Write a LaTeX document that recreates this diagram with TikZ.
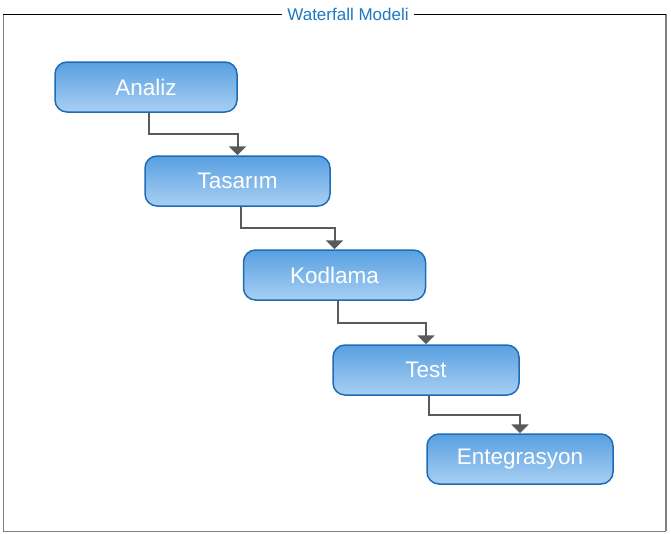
\documentclass[tikz,border=0pt]{standalone}
\usepackage{fontspec}
\setmainfont{Liberation Sans}
\usetikzlibrary{arrows.meta,calc}

\definecolor{boxtop}{RGB}{88,160,225}
\definecolor{boxbottom}{RGB}{168,207,243}
\definecolor{boxline}{RGB}{30,108,181}
\definecolor{titleblue}{RGB}{31,120,193}
\definecolor{flowgray}{RGB}{90,90,90}

\begin{document}
\begin{tikzpicture}[x=1pt,y=-1pt,>={Triangle[width=17pt,length=9pt]},
                    main box/.style={rounded corners=12pt,draw=boxline,line width=1.5pt,
                      top color=boxtop,bottom color=boxbottom,text=white,
                      minimum width=182pt,minimum height=50pt,
                      font=\fontsize{22.5}{26}\selectfont}]
  \useasboundingbox (0,0) rectangle (671,533);
  % frame
  \draw[gray,line width=1pt] (3,14) -- (3,531) -- (666,531);
  \draw[gray,line width=2pt] (666,14) -- (666,531);
  \draw[black,line width=1pt] (3,14) -- (666,14);
  \node[fill=white,text=titleblue,inner xsep=5pt,font=\fontsize{17}{20}\selectfont] (title) at (348,14) {Waterfall Modeli};
  \node[main box] (1) at (146,87) {Analiz};
  \node[main box,minimum width=185pt] (2) at (237.5,181) {Tasarım};
  \node[main box] (3) at (334.5,275) {Kodlama};
  \node[main box,minimum width=186pt] (4) at (426,370) {Test};
  \node[main box,minimum width=186pt] (5) at (520,459) {Entegrasyon};
  \foreach \a/\b in {1/2,2/3,3/4,4/5}
    \draw[->,flowgray,line width=2pt] ([xshift=3pt]\a.south) |- ($([xshift=3pt]\a.south)!.5!(\b.north)$) -| (\b.north);
\end{tikzpicture}
\end{document}
